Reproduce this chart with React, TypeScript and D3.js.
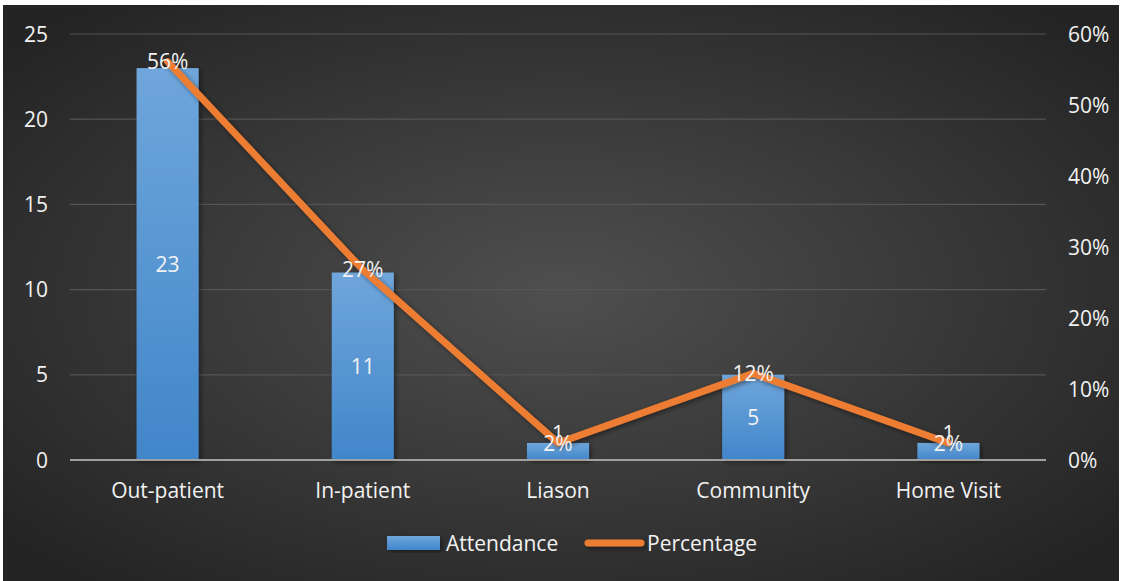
import React, { useEffect } from "react";
import * as d3 from "d3";

const categories = ["Out-patient", "In-patient", "Liason", "Community", "Home Visit"];
const attendance = [23, 11, 1, 5, 1];
const percentage = [0.561, 0.268, 0.024, 0.122, 0.024];
const percentLabels = ["56%", "27%", "2%", "12%", "2%"];
const leftTicks = [0, 5, 10, 15, 20, 25];
const rightTicks = [0, 0.1, 0.2, 0.3, 0.4, 0.5, 0.6];
const seriesNames = ["Attendance", "Percentage"];

const W = 1121;
const H = 581;
const FONT = "'Open Sans', 'Noto Sans', sans-serif";
const TEXT = "#f2f2f2";

export default function App() {
  useEffect(() => {
    document.body.style.margin = "0";
  }, []);

  const plotL = 70, plotR = 1046, plotT = 34, plotB = 460;
  const x = d3.scaleBand<string>().domain(categories).range([plotL, plotR]).padding(0);
  const yL = d3.scaleLinear().domain([0, 25]).range([plotB, plotT]);
  const yR = d3.scaleLinear().domain([0, 0.6]).range([plotB, plotT]);
  const bw = x.bandwidth() * 0.318;
  const cx = (c: string) => (x(c) as number) + x.bandwidth() / 2;

  const line = d3
    .line<number>()
    .x((_, i) => cx(categories[i]))
    .y((d) => yR(d));

  const labelH = 27;

  return (
    <svg width={W} height={H} style={{ position: "absolute", left: 0, top: 0, display: "block" }}>
      <defs>
        <radialGradient id="bg" cx="50%" cy="50%" r="65%">
          <stop offset="0%" stopColor="#4f4f4f" />
          <stop offset="100%" stopColor="#242424" />
        </radialGradient>
        <linearGradient id="barGrad" x1="0" y1="0" x2="0" y2="1">
          <stop offset="0%" stopColor="#6fa6db" />
          <stop offset="100%" stopColor="#4186ca" />
        </linearGradient>
        <linearGradient id="legGrad" x1="0" y1="0" x2="0" y2="1">
          <stop offset="0%" stopColor="#6fa6db" />
          <stop offset="100%" stopColor="#4186ca" />
        </linearGradient>
        <filter id="shadow" x="-20%" y="-20%" width="140%" height="140%">
          <feDropShadow dx="2" dy="2" stdDeviation="2.5" floodColor="#000" floodOpacity="0.45" />
        </filter>
        <filter id="shadowU" filterUnits="userSpaceOnUse" x="0" y="0" width={W} height={H}>
          <feDropShadow dx="2" dy="2" stdDeviation="2.5" floodColor="#000" floodOpacity="0.45" />
        </filter>
      </defs>
      <rect x={0} y={0} width={W} height={H} fill="#ffffff" />
      <rect x={3} y={5} width={1116} height={576} fill="url(#bg)" />

      {/* gridlines */}
      {leftTicks.slice(1).map((t) => (
        <line key={"g" + t} x1={plotL} x2={plotR} y1={yL(t)} y2={yL(t)} stroke="#555555" strokeWidth={1.2} />
      ))}

      {/* bars */}
      {attendance.map((v, i) => (
        <rect
          key={"b" + i}
          x={cx(categories[i]) - bw / 2}
          y={yL(v)}
          width={bw}
          height={plotB - yL(v)}
          fill="url(#barGrad)"
          filter="url(#shadow)"
        />
      ))}

      {/* axis line */}
      <line x1={plotL} x2={plotR} y1={plotB} y2={plotB} stroke="#a0a0a0" strokeWidth={2} />

      {/* left ticks */}
      {leftTicks.map((t) => (
        <text key={"l" + t} x={48} y={yL(t)} dy="0.36em" textAnchor="end" fill={TEXT} fontFamily={FONT} fontSize={21}>
          {t}
        </text>
      ))}
      {/* right ticks */}
      {rightTicks.map((t) => (
        <text key={"r" + t} x={1068} y={yR(t)} dy="0.36em" textAnchor="start" fill={TEXT} fontFamily={FONT} fontSize={21}>
          {Math.round(t * 100) + "%"}
        </text>
      ))}

      {/* category labels */}
      {categories.map((c) => (
        <text key={"c" + c} x={cx(c)} y={490} dy="0.36em" textAnchor="middle" fill={TEXT} fontFamily={FONT} fontSize={21}>
          {c}
        </text>
      ))}

      {/* bar value labels */}
      {attendance.map((v, i) => {
        const center = (yL(v) + plotB) / 2;
        const yy = Math.min(center, plotB - labelH);
        return (
          <text key={"bl" + i} x={cx(categories[i])} y={yy} dy="0.36em" textAnchor="middle" fill={TEXT} fontFamily={FONT} fontSize={21}>
            {v}
          </text>
        );
      })}

      {/* line */}
      <path
        d={line(percentage) as string}
        fill="none"
        stroke="#ed7d31"
        strokeWidth={7}
        strokeLinejoin="round"
        strokeLinecap="round"
        filter="url(#shadowU)"
      />

      {/* percentage labels */}
      {percentage.map((p, i) => (
        <text key={"pl" + i} x={cx(categories[i])} y={yR(p)} dy="0.36em" textAnchor="middle" fill={TEXT} fontFamily={FONT} fontSize={21}>
          {percentLabels[i]}
        </text>
      ))}

      {/* legend */}
      <rect x={387} y={536} width={53} height={14} fill="url(#legGrad)" filter="url(#shadow)" />
      <text x={446} y={543} dy="0.36em" fill={TEXT} fontFamily={FONT} fontSize={21}>
        {seriesNames[0]}
      </text>
      <line x1={588} x2={641} y1={543} y2={543} stroke="#ed7d31" strokeWidth={7} strokeLinecap="round" filter="url(#shadowU)" />
      <text x={647} y={543} dy="0.36em" fill={TEXT} fontFamily={FONT} fontSize={21}>
        {seriesNames[1]}
      </text>
    </svg>
  );
}
